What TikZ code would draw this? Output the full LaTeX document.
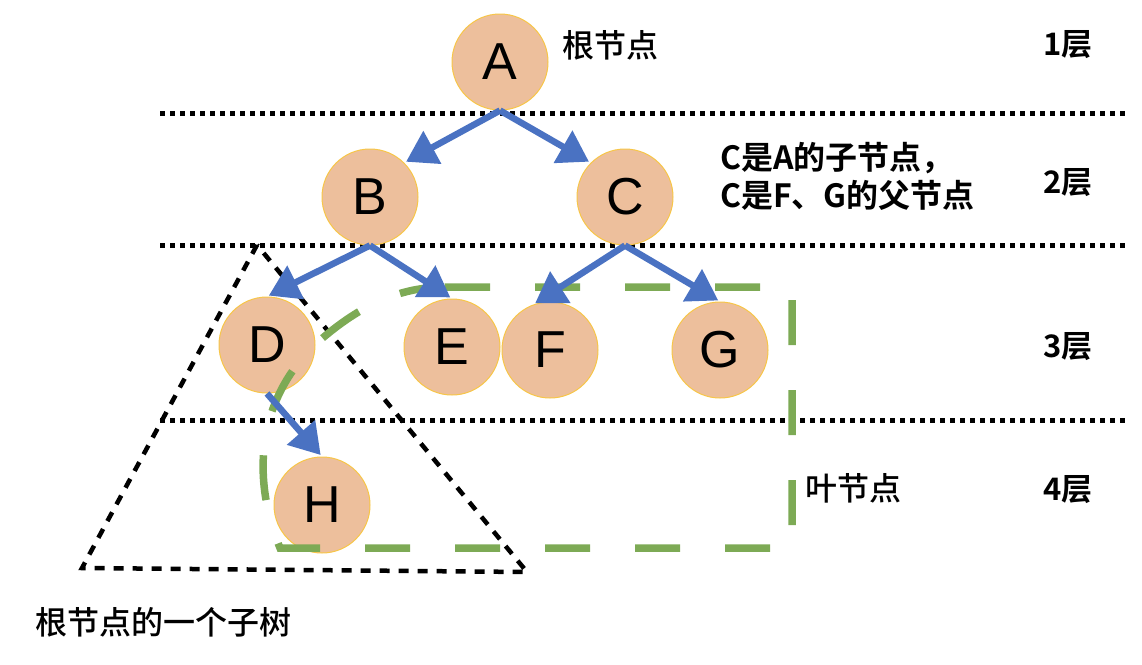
\documentclass[tikz,border=0pt]{standalone}
\usepackage{fontspec}
\setmainfont{Liberation Sans}
\newfontfamily\cjk[BoldFont={Noto Sans CJK SC Bold}]{Noto Sans CJK SC Medium}
\usetikzlibrary{arrows.meta}

\definecolor{nodefill}{HTML}{EDBF9C}
\definecolor{nodeline}{HTML}{F7C648}
\definecolor{arrowblue}{HTML}{4A72C2}
\definecolor{leafgreen}{HTML}{7DAA55}

\begin{document}
\begin{tikzpicture}[x=1pt, y=-1pt]
\tikzstyle{tnode} = [circle, minimum size=96pt, inner sep=0pt, fill=nodefill,
  draw=nodeline, line width=1pt, font=\fontsize{52}{60}\selectfont]
\tikzstyle{tarrow} = [draw=arrowblue, line width=6.5pt,
  -{Triangle[length=30pt,width=36pt]}, shorten >=2pt]
\tikzstyle{level} = [line width=5pt, dash pattern=on 5pt off 5pt]
\tikzstyle{note} = [font=\cjk\fontsize{32}{38}\selectfont, inner sep=0pt]
\tikzstyle{bnote} = [font=\cjk\bfseries\fontsize{31}{38}\selectfont, inner sep=0pt]

\useasboundingbox (0, 0) rectangle (1142, 664);

% linee di livello
\draw[level] (160, 113) -- (1127, 113);
\draw[level] (160, 245) -- (1127, 245);
\draw[level] (160, 420) -- (1127, 420);

% sottoalbero
\coordinate (top) at (257, 245);
\coordinate (left) at (82, 568);
\coordinate (right) at (527, 572);
\draw[line width=4.5pt, dash pattern=on 10pt off 9pt] (top) -- (left) -- (right) -- cycle;

\node[tnode] (a) at (500, 62) {A};
\node[tnode] (b) at (370, 197) {B};
\node[tnode] (c) at (625, 197) {C};
\node[tnode] (d) at (267, 345) {D};
\node[tnode] (e) at (452, 347) {E};
\node[tnode] (f) at (550, 350) {F};
\node[tnode] (g) at (720, 350) {G};
\node[tnode] (h) at (322, 505) {H};

% foglie
\draw[leafgreen, line width=7.5pt, dash pattern=on 45pt off 45pt]
  (445, 287) -- (792, 287) -- (792, 548) -- (280, 548)
  .. controls (252, 480) and (255, 400) .. (318, 342)
  .. controls (360, 305) and (400, 287) .. (445, 287);

% archi
\draw[tarrow] (a.south) -- (b.north east);
\draw[tarrow] (a.south) -- (c.north west);
\draw[tarrow] (b.south) -- (d.north);
\draw[tarrow] (b.south) -- (e.north);
\draw[tarrow] (c.south) -- (f.110);
\draw[tarrow] (c.south) -- (g.north);
\draw[tarrow] (d.south) -- (h.north);

% etichette
\node[note, anchor=west] (root) at (562, 45) {根节点};
\node[bnote, anchor=west, align=left, font=\cjk\bfseries\fontsize{32}{38}\selectfont] (child) at (720, 176) {C是A的子节点，\\C是F、G的父节点};
\node[note, anchor=west] (leaf) at (805, 488) {叶节点};
\node[note, anchor=west] (sub) at (35, 622) {根节点的一个子树};

\node[bnote] (l1) at (1068, 45) {1层};
\node[bnote] (l2) at (1068, 183) {2层};
\node[bnote] (l3) at (1068, 347) {3层};
\node[bnote] (l4) at (1068, 490) {4层};

\end{tikzpicture}
\end{document}
